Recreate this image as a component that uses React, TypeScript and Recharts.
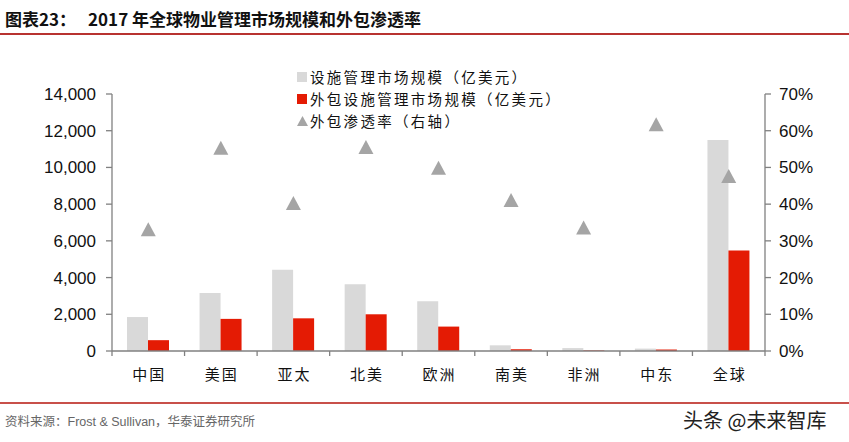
import React from "react";
import { ComposedChart, Bar, Line, XAxis, YAxis } from "recharts";

const categories = ["中国", "美国", "亚太", "北美", "欧洲", "南美", "非洲", "中东", "全球"];
const marketSize = [1850, 3160, 4420, 3640, 2710, 310, 160, 130, 11500];
const outsourcedSize = [590, 1750, 1780, 2000, 1330, 100, 30, 80, 5470];
const penetration = [0.33, 0.552, 0.402, 0.554, 0.498, 0.41, 0.335, 0.616, 0.475];
const leftTicks = [0, 2000, 4000, 6000, 8000, 10000, 12000, 14000];
const rightTicks = [0, 0.1, 0.2, 0.3, 0.4, 0.5, 0.6, 0.7];

const seriesNames = ["设施管理市场规模（亿美元）", "外包设施管理市场规模（亿美元）", "外包渗透率（右轴）"];

const data = categories.map((c, i) => ({
  name: c,
  size: marketSize[i],
  out: outsourcedSize[i],
  rate: penetration[i],
}));

const GRAY = "#d9d9d9";
const RED = "#e41b04";
const TRI = "#a5a5a5";
const AXIS = "#808080";
const CJK = "'Noto Sans CJK SC', sans-serif";

const XTick = (props: any) => {
  const { x, y, payload, index } = props;
  const off = payload && payload.offset ? payload.offset : 36;
  return (
    <g>
      <line x1={x - off} y1={y - 8} x2={x - off} y2={y - 3} stroke={AXIS} strokeWidth={1.3} />
      {index === categories.length - 1 && (
        <line x1={x + off} y1={y - 8} x2={x + off} y2={y - 3} stroke={AXIS} strokeWidth={1.3} />
      )}
      <text
        x={x + 1}
        y={y + 21}
        textAnchor="middle"
        fontFamily={CJK}
        fontSize={15}
        letterSpacing={2}
        fill="#111"
      >
        {payload.value}
      </text>
    </g>
  );
};

const Triangle = (props: any) => {
  const { cx, cy, index } = props;
  if (cx == null || cy == null) return <g key={index} />;
  const w = 7.5;
  const h = 13;
  return (
    <polygon
      key={index}
      points={`${cx},${cy - h / 2 - 1} ${cx - w},${cy + h / 2} ${cx + w},${cy + h / 2}`}
      fill={TRI}
    />
  );
};

export default function App() {
  return (
    <div
      style={{
        position: "absolute",
        left: 0,
        top: 0,
        width: 849,
        height: 442,
        background: "#fff",
        overflow: "hidden",
      }}
    >
      <div
        style={{
          position: "absolute",
          left: 5,
          top: 6,
          fontFamily: CJK,
          fontWeight: 700,
          fontSize: 17,
          color: "#111",
          whiteSpace: "nowrap",
        }}
      >
        图表23：<span style={{ marginLeft: 12 }}>2017 年全球物业管理市场规模和外包渗透率</span>
      </div>
      <div style={{ position: "absolute", left: 0, top: 33, width: 849, height: 1.5, background: "#b83230" }} />

      <ComposedChart
        width={849}
        height={442}
        data={data}
        margin={{ top: 94, right: 24, bottom: 61, left: 52 }}
        barGap={0}
        barCategoryGap={0}
      >
        <XAxis
          dataKey="name"
          axisLine={{ stroke: AXIS, strokeWidth: 1.3 }}
          tickLine={false}
          tick={<XTick />}
          height={30}
          interval={0}
        />
        <YAxis
          yAxisId="left"
          orientation="left"
          width={60}
          domain={[0, 14000]}
          ticks={leftTicks}
          interval={0}
          axisLine={{ stroke: AXIS, strokeWidth: 1.3 }}
          tickLine={{ stroke: AXIS, strokeWidth: 1.3 }}
          tickSize={6}
          tickMargin={10}
          tickFormatter={(v: number) => v.toLocaleString("en-US")}
          tick={{ fill: "#111", fontSize: 17, fontFamily: "'Liberation Sans', Arial, sans-serif" }}
        />
        <YAxis
          yAxisId="right"
          orientation="right"
          width={60}
          domain={[0, 0.7]}
          ticks={rightTicks}
          interval={0}
          axisLine={{ stroke: AXIS, strokeWidth: 1.3 }}
          tickLine={{ stroke: AXIS, strokeWidth: 1.3 }}
          tickSize={6}
          tickMargin={8}
          tickFormatter={(v: number) => `${Math.round(v * 100)}%`}
          tick={{ fill: "#111", fontSize: 17, fontFamily: "'Liberation Sans', Arial, sans-serif" }}
        />
        <Bar yAxisId="left" dataKey="size" name={seriesNames[0]} fill={GRAY} barSize={21} isAnimationActive={false} />
        <Bar yAxisId="left" dataKey="out" name={seriesNames[1]} fill={RED} barSize={21} isAnimationActive={false} />
        <Line
          yAxisId="right"
          dataKey="rate"
          name={seriesNames[2]}
          stroke="none"
          dot={<Triangle />}
          activeDot={false}
          isAnimationActive={false}
        />
      </ComposedChart>

      <div
        style={{
          position: "absolute",
          left: 297,
          top: 66,
          fontFamily: CJK,
          fontSize: 14.5,
          letterSpacing: 2.3,
          color: "#111",
          lineHeight: "22px",
        }}
      >
        <div style={{ display: "flex", alignItems: "center" }}>
          <span style={{ width: 10, height: 10, background: GRAY, marginRight: 3, display: "inline-block" }} />
          {seriesNames[0]}
        </div>
        <div style={{ display: "flex", alignItems: "center" }}>
          <span style={{ width: 10, height: 10, background: RED, marginRight: 3, display: "inline-block" }} />
          {seriesNames[1]}
        </div>
        <div style={{ display: "flex", alignItems: "center" }}>
          <svg width={11} height={10} style={{ marginRight: 2 }}>
            <polygon points="5.5,0 0,10 11,10" fill={TRI} />
          </svg>
          {seriesNames[2]}
        </div>
      </div>

      <div style={{ position: "absolute", left: 0, top: 402, width: 849, height: 1.5, background: "#c8504a" }} />
      <div
        style={{
          position: "absolute",
          left: 5,
          top: 411,
          fontFamily: CJK,
          fontSize: 12.5,
          color: "#666",
          whiteSpace: "nowrap",
        }}
      >
        资料来源：<span style={{ fontFamily: "'Liberation Sans', Arial, sans-serif" }}>Frost &amp; Sullivan</span>，华泰证券研究所
      </div>
      <div
        style={{
          position: "absolute",
          left: 683,
          top: 405,
          fontFamily: CJK,
          fontSize: 20,
          color: "#222",
          whiteSpace: "nowrap",
        }}
      >
        头条 @未来智库
      </div>
    </div>
  );
}
